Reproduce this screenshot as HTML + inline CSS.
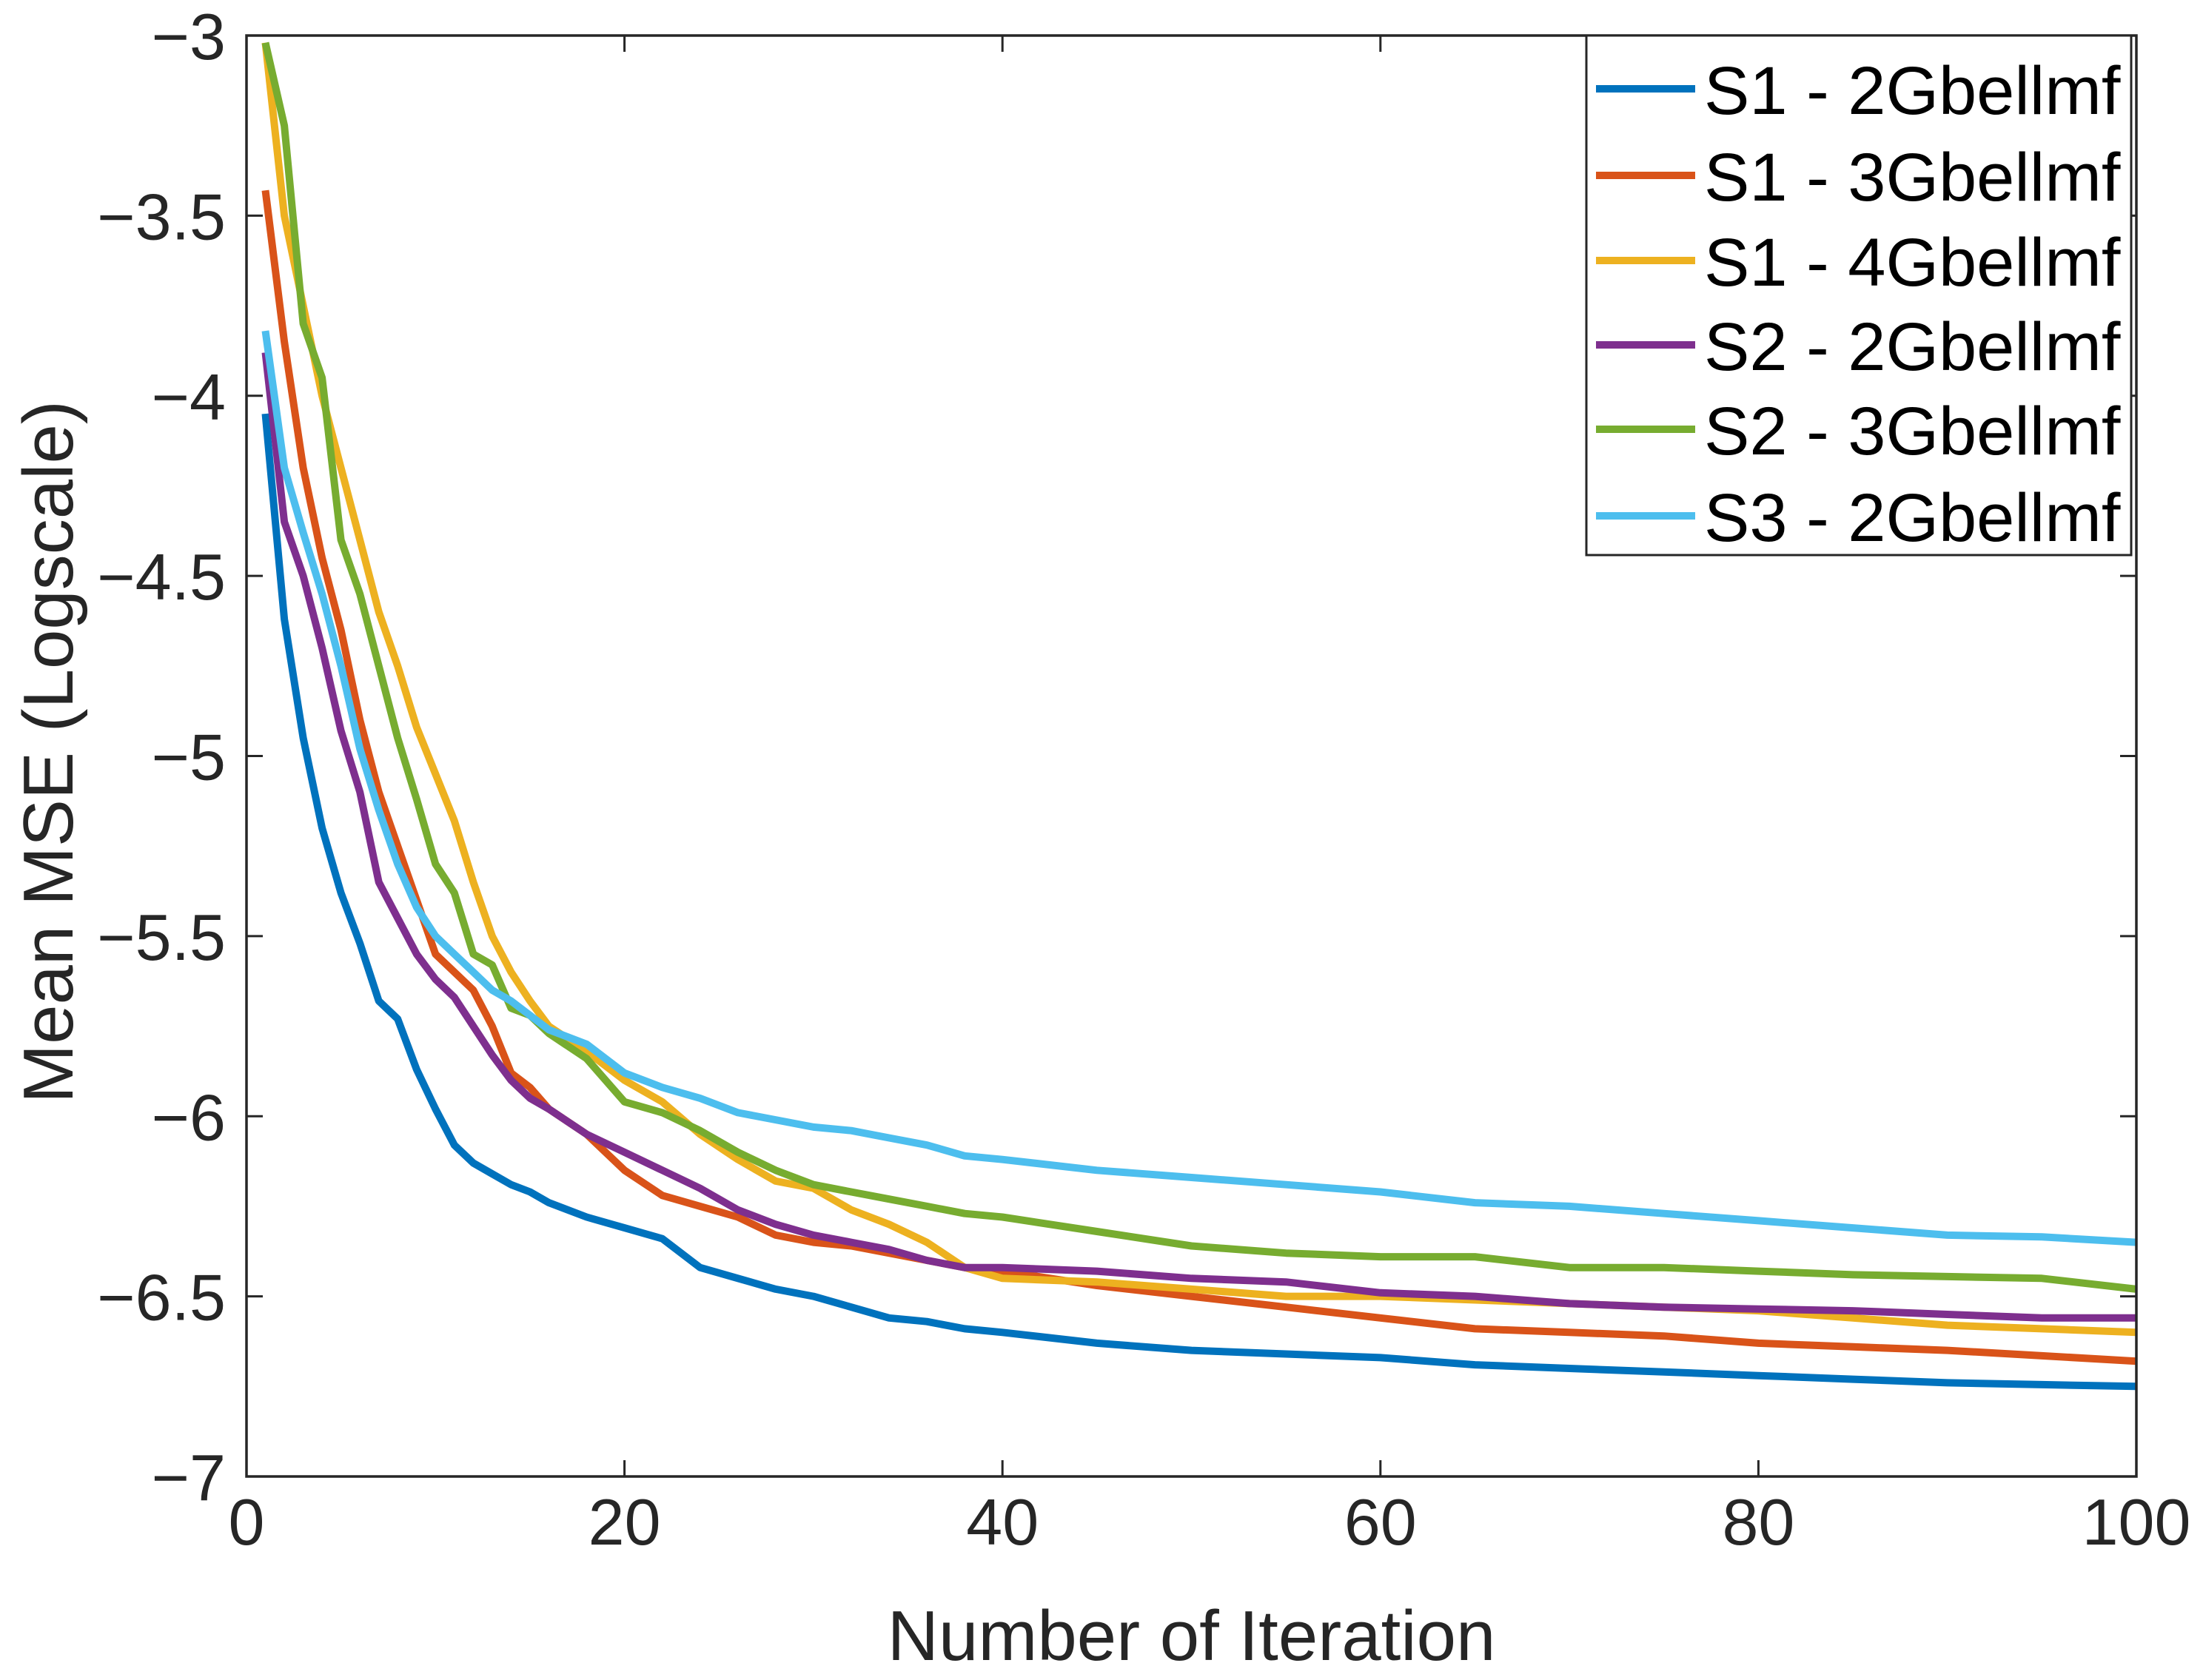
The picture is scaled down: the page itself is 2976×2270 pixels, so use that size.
<!DOCTYPE html>
<html><head><meta charset="utf-8"><style>
html,body{margin:0;padding:0;background:#fff;}
svg{display:block;font-family:"Liberation Sans",Arial,sans-serif;}
</style></head><body>
<svg id="chart" width="2976" height="2270" viewBox="0 0 2976 2270" xmlns="http://www.w3.org/2000/svg">
<rect width="2976" height="2270" fill="#fff"/>
<g id="series"></g>
<g id="axes"></g>
<g id="legend"></g>
</svg>
<script>
const iterations = [1,2,3,4,5,6,7,8,9,10,11,12,13,14,15,16,18,20,22,24,26,28,30,32,34,36,38,40,45,50,55,60,65,70,75,80,85,90,95,100];
const s1g2 = [-4.05,-4.62,-4.95,-5.2,-5.38,-5.52,-5.68,-5.73,-5.87,-5.98,-6.08,-6.13,-6.16,-6.19,-6.21,-6.24,-6.28,-6.31,-6.34,-6.42,-6.45,-6.48,-6.5,-6.53,-6.56,-6.57,-6.59,-6.6,-6.63,-6.65,-6.66,-6.67,-6.69,-6.7,-6.71,-6.72,-6.73,-6.74,-6.745,-6.75];
const s1g3 = [-3.43,-3.85,-4.2,-4.45,-4.65,-4.9,-5.1,-5.25,-5.4,-5.55,-5.6,-5.65,-5.75,-5.88,-5.92,-5.98,-6.05,-6.15,-6.22,-6.25,-6.28,-6.33,-6.35,-6.36,-6.38,-6.4,-6.42,-6.43,-6.47,-6.5,-6.53,-6.56,-6.59,-6.6,-6.61,-6.63,-6.64,-6.65,-6.665,-6.68];
const s1g4 = [-3.02,-3.5,-3.75,-4.0,-4.2,-4.4,-4.6,-4.75,-4.92,-5.05,-5.18,-5.35,-5.5,-5.6,-5.68,-5.75,-5.82,-5.9,-5.96,-6.05,-6.12,-6.18,-6.2,-6.26,-6.3,-6.35,-6.42,-6.45,-6.46,-6.48,-6.5,-6.5,-6.51,-6.52,-6.53,-6.54,-6.56,-6.58,-6.59,-6.6];
const s2g2 = [-3.88,-4.35,-4.5,-4.7,-4.93,-5.1,-5.35,-5.45,-5.55,-5.62,-5.67,-5.75,-5.83,-5.9,-5.95,-5.98,-6.05,-6.1,-6.15,-6.2,-6.26,-6.3,-6.33,-6.35,-6.37,-6.4,-6.42,-6.42,-6.43,-6.45,-6.46,-6.49,-6.5,-6.52,-6.53,-6.535,-6.54,-6.55,-6.56,-6.56];
const s2g3 = [-3.02,-3.25,-3.8,-3.95,-4.4,-4.55,-4.75,-4.95,-5.12,-5.3,-5.38,-5.55,-5.58,-5.7,-5.72,-5.77,-5.84,-5.96,-5.99,-6.04,-6.1,-6.15,-6.19,-6.21,-6.23,-6.25,-6.27,-6.28,-6.32,-6.36,-6.38,-6.39,-6.39,-6.42,-6.42,-6.43,-6.44,-6.445,-6.45,-6.48];
const s3g2 = [-3.82,-4.2,-4.38,-4.55,-4.75,-4.98,-5.15,-5.3,-5.42,-5.5,-5.55,-5.6,-5.65,-5.68,-5.72,-5.76,-5.8,-5.88,-5.92,-5.95,-5.99,-6.01,-6.03,-6.04,-6.06,-6.08,-6.11,-6.12,-6.15,-6.17,-6.19,-6.21,-6.24,-6.25,-6.27,-6.29,-6.31,-6.33,-6.335,-6.35];
const seriesNames = ["S1 - 2Gbellmf","S1 - 3Gbellmf","S1 - 4Gbellmf","S2 - 2Gbellmf","S2 - 3Gbellmf","S3 - 2Gbellmf"];
const xTicks = [0,20,40,60,80,100];
const yTicks = [-3,-3.5,-4,-4.5,-5,-5.5,-6,-6.5,-7];
const yTickLabels = ["\u22123","\u22123.5","\u22124","\u22124.5","\u22125","\u22125.5","\u22126","\u22126.5","\u22127"];

const NS="http://www.w3.org/2000/svg";
const L=333,R=2886,T=48,B=1995;
const xs=v=>L+(v-0)/(100-0)*(R-L);
const ys=v=>T+(-3-v)/(4)*(B-T);
const colors=["#0072BD","#D95319","#EDB120","#7E2F8E","#77AC30","#4DBEEE"];
const data=[s1g2,s1g3,s1g4,s2g2,s2g3,s3g2];
function mk(tag,attrs,parent){const e=document.createElementNS(NS,tag);for(const k in attrs)e.setAttribute(k,attrs[k]);parent.appendChild(e);return e;}
const sg=document.getElementById('series');
data.forEach((arr,i)=>{
  const d=arr.map((v,j)=>(j?'L':'M')+xs(iterations[j]).toFixed(1)+','+ys(v).toFixed(1)).join(' ');
  const p=mk('path',{d:d,fill:'none',stroke:colors[i],'stroke-width':10,'stroke-linejoin':'round'},sg);
  
  
});
const ag=document.getElementById('axes');
const fr=mk('rect',{x:L,y:T,width:R-L,height:B-T,fill:'none',stroke:'#262626','stroke-width':3.5},ag);


xTicks.forEach(t=>{
  const x=xs(t);
  mk('line',{x1:x,y1:B,x2:x,y2:B-22,stroke:'#262626','stroke-width':3},ag);
  mk('line',{x1:x,y1:T,x2:x,y2:T+22,stroke:'#262626','stroke-width':3},ag);
  const tx=mk('text',{x:x,y:B+92,'font-size':88,'text-anchor':'middle',fill:'#262626'},ag);
  tx.textContent=String(t);
  
  
});
yTicks.forEach((t,i)=>{
  const y=ys(t);
  mk('line',{x1:L,y1:y,x2:L+22,y2:y,stroke:'#262626','stroke-width':3},ag);
  mk('line',{x1:R,y1:y,x2:R-22,y2:y,stroke:'#262626','stroke-width':3},ag);
  const tx=mk('text',{x:L-28,y:y+32,'font-size':88,'text-anchor':'end',fill:'#262626'},ag);
  tx.textContent=yTickLabels[i];
  
  
});
const xt=mk('text',{x:(L+R)/2,y:2243,'font-size':96,'text-anchor':'middle',fill:'#262626'},ag);
xt.textContent='Number of Iteration';


const yt=mk('text',{x:0,y:0,'font-size':96,'text-anchor':'middle',fill:'#262626',transform:'translate(98,1016) rotate(-90)'},ag);
yt.textContent='Mean MSE (Logscale)';


const lg=document.getElementById('legend');
const lb=mk('rect',{x:2143,y:48,width:736,height:702,fill:'#fff',stroke:'#262626','stroke-width':3},lg);


const rows=[120,237,352,466,580,697];
seriesNames.forEach((n,i)=>{
  const g=mk('g',{},lg);
  
  
  mk('line',{x1:2156,y1:rows[i],x2:2290,y2:rows[i],stroke:colors[i],'stroke-width':10},g);
  const tx=mk('text',{x:2302,y:rows[i]+34,'font-size':92,fill:'#000'},g);
  tx.textContent=n;
});
</script>
</body></html>
